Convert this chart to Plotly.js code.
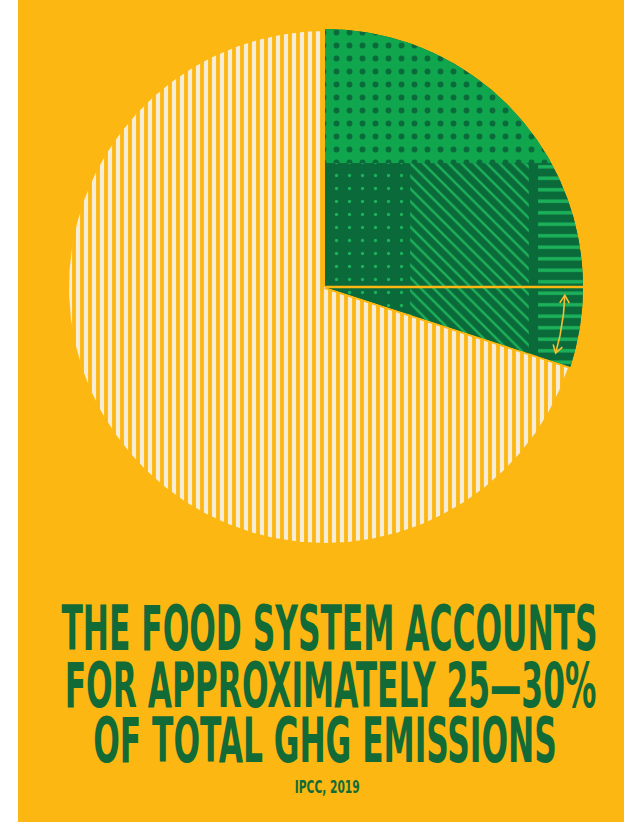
<!DOCTYPE html>
<html><head><meta charset="utf-8">
<script src="https://cdn.plot.ly/plotly-3.0.1.min.js"></script>
<style>html,body{margin:0;padding:0;background:#fff;} #chart{width:624px;height:822px;}</style>
</head><body><div id="chart"></div>
<script>
// ---------- DATA ----------
const categories = ["Food system (lower estimate)", "Food system (upper range)", "Other GHG emissions"];
const shares = [25, 5, 70];           // percent of total GHG emissions
const titleLines = ["THE FOOD SYSTEM ACCOUNTS", "FOR APPROXIMATELY 25—30%", "OF TOTAL GHG EMISSIONS"];
const sourceText = "IPCC, 2019";

// ---------- STYLE / GEOMETRY ----------
const W = 624, H = 822, LEFT = 18;
const CX = 325, CY = 287, R = 258;          // pie centre & radius in px
const ORANGE = '#FCB712', CREAM = '#F7ECD6';
const DARK = '#0B6A3A', LIGHT = '#0FA64E', STRIPE = '#1CB25B', TXT = '#126B36';
const FONT = '"Liberation Sans Narrow", "DejaVu Sans Condensed", "Liberation Sans", sans-serif';
const band = 0.48;                            // light-green band lower edge (fraction of R)
const cols = [[0, 0.32, '.', 13, 0.05], [0.33, 0.79, '\\', 9, 0.26], [0.826, 1, '-', 11.5, 0.3]];
// title layout (page px): baseline, centre x, target width per line
const lineBase = [650, 707, 762], lineCX = [329.5, 330.5, 325], lineW = [535, 537, 460];

const total = shares.reduce((a, b) => a + b, 0);
const cum = []; let acc = 0;
shares.forEach(s => { cum.push([acc / total * 360, (acc + s) / total * 360]); acc += s; });

const pt = (r, deg) => [r * Math.sin(deg * Math.PI / 180), r * Math.cos(deg * Math.PI / 180)];
function wedge(a0, a1) {
  const xs = [0], ys = [0];
  const n = Math.max(8, Math.ceil((a1 - a0) * 2));
  for (let i = 0; i <= n; i++) { const p = pt(1, a0 + (a1 - a0) * i / n); xs.push(p[0]); ys.push(p[1]); }
  xs.push(0); ys.push(0);
  return {x: xs, y: ys};
}
function region(a, b, top, bot) {
  const xs = [], ys = [], n = 240;
  for (let i = 0; i <= n; i++) { const x = a + (b - a) * i / n; xs.push(x); ys.push(top(x)); }
  for (let i = n; i >= 0; i--) { const x = a + (b - a) * i / n; xs.push(x); ys.push(bot(x)); }
  xs.push(xs[0]); ys.push(ys[0]);
  return {x: xs, y: ys};
}
const circ = x => Math.sqrt(Math.max(0, 1 - x * x));
const foodEnd = cum[1][1];
const rayDir = pt(1, foodEnd);
const rayY = x => x * rayDir[1] / rayDir[0];
const bottomFood = x => Math.max(rayY(x), -circ(x));

const traces = [];
const base = {type: 'scatter', mode: 'lines', fill: 'toself', hoverinfo: 'skip', showlegend: false};

const wOther = wedge(cum[2][0], cum[2][1]);
traces.push(Object.assign({}, base, {x: wOther.x, y: wOther.y, name: categories[2],
  line: {color: ORANGE, width: 4}, fillcolor: CREAM,
  fillpattern: {shape: '|', bgcolor: ORANGE, fgcolor: CREAM, size: 8, solidity: 0.52}}));

const wFood = wedge(cum[0][0], cum[1][1]);
traces.push(Object.assign({}, base, {x: wFood.x, y: wFood.y, name: categories[0],
  line: {width: 0, color: DARK}, fillcolor: DARK}));

const bandR = region(0, circ(band), circ, () => band);
traces.push(Object.assign({}, base, {x: bandR.x, y: bandR.y, line: {width: 0, color: LIGHT}, fillcolor: LIGHT,
  fillpattern: {shape: '.', bgcolor: LIGHT, fgcolor: DARK, size: 13, solidity: 0.16}}));

cols.forEach(c => {
  const rg = region(c[0], c[1], x => Math.min(band, circ(x)), bottomFood);
  traces.push(Object.assign({}, base, {x: rg.x, y: rg.y, line: {width: 0, color: DARK}, fillcolor: DARK,
    fillpattern: {shape: c[2], bgcolor: DARK, fgcolor: STRIPE, size: c[3], solidity: c[4]}}));
});

const sep = pt(1, cum[0][1]);
traces.push({type: 'scatter', mode: 'lines', x: [0, sep[0]], y: [0, sep[1]], line: {color: ORANGE, width: 2.5},
  hoverinfo: 'skip', showlegend: false});

(function () {
  const r = 0.93, a0 = cum[1][0] + 2, a1 = cum[1][1] - 2;
  const xs = [], ys = [];
  for (let i = 0; i <= 30; i++) { const p = pt(r, a0 + (a1 - a0) * i / 30); xs.push(p[0]); ys.push(p[1]); }
  function head(a, dirSign) {
    const p = pt(r, a);
    const rad = a * Math.PI / 180;
    let tx = Math.cos(rad) * dirSign, ty = -Math.sin(rad) * dirSign;
    const L = 0.035, ang = 32 * Math.PI / 180;
    const rot = (x, y, t) => [x * Math.cos(t) - y * Math.sin(t), x * Math.sin(t) + y * Math.cos(t)];
    const v1 = rot(-tx, -ty, ang), v2 = rot(-tx, -ty, -ang);
    xs.push(null, p[0] + L * v1[0], p[0], p[0] + L * v2[0]);
    ys.push(null, p[1] + L * v1[1], p[1], p[1] + L * v2[1]);
  }
  head(a1, 1); head(a0, -1);
  traces.push({type: 'scatter', mode: 'lines', x: xs, y: ys, line: {color: '#F6C035', width: 1.6},
    hoverinfo: 'skip', showlegend: false, connectgaps: false});
})();

const pw = W - LEFT;
const xr = [(LEFT - CX) / R, (W - CX) / R], yr = [(CY - H) / R, CY / R];
const annotations = [
  {text: titleLines.join('<br>'), xref: 'paper', yref: 'paper', x: (328 - LEFT) / pw, y: 1 - 684 / H,
   xanchor: 'center', yanchor: 'middle', align: 'center', showarrow: false,
   font: {family: FONT, size: 62, weight: 700, color: TXT}},
  {text: sourceText, xref: 'paper', yref: 'paper', x: (327.5 - LEFT) / pw, y: 1 - 786.5 / H,
   xanchor: 'center', yanchor: 'middle', showarrow: false,
   font: {family: FONT, size: 18, weight: 700, color: TXT}}
];

const layout = {
  width: W, height: H, margin: {l: LEFT, r: 0, t: 0, b: 0, pad: 0},
  paper_bgcolor: '#FFFFFF', plot_bgcolor: ORANGE,
  xaxis: {range: xr, visible: false, fixedrange: true},
  yaxis: {range: yr, visible: false, fixedrange: true},
  showlegend: false, annotations: annotations
};
Plotly.newPlot('chart', traces, layout, {displayModeBar: false, staticPlot: true}).then(gd => {
  const texts = gd.querySelectorAll('.annotation-text');
  // title block: tighten line pitch, condense horizontally
  const t = texts[0];
  const lines = t.querySelectorAll('tspan.line');
  const ctm = t.getScreenCTM();
  const cx = parseFloat(t.getAttribute('x')) || 0;
  if (lines.length === titleLines.length) {
    let ratio = 0;
    lines.forEach((ln, i) => { ratio += lineW[i] / ln.getComputedTextLength(); });
    const sx = ratio / lines.length;
    const y0 = parseFloat(lines[0].getAttribute('y')) || parseFloat(t.getAttribute('y')) || 0;
    lines.forEach((ln, i) => {
      ln.setAttribute('y', y0);
      ln.setAttribute('dy', (lineBase[i] - lineBase[0]) + 'px');
      ln.setAttribute('x', cx + (lineCX[i] - cx - ctm.e) / sx);
    });
    const shiftY = lineBase[0] - (y0 + ctm.f);
    t.setAttribute('transform', 'translate(' + cx + ',' + shiftY + ') scale(' + sx + ',1) translate(' + (-cx) + ',0)');
  }
  // source line
  const s = texts[1];
  const bb = s.getBBox();
  const sx2 = 65 / bb.width;
  const c2 = bb.x + bb.width / 2;
  s.setAttribute('transform', 'translate(' + c2 + ',0) scale(' + sx2 + ',1) translate(' + (-c2) + ',0)');
});
</script></body></html>
